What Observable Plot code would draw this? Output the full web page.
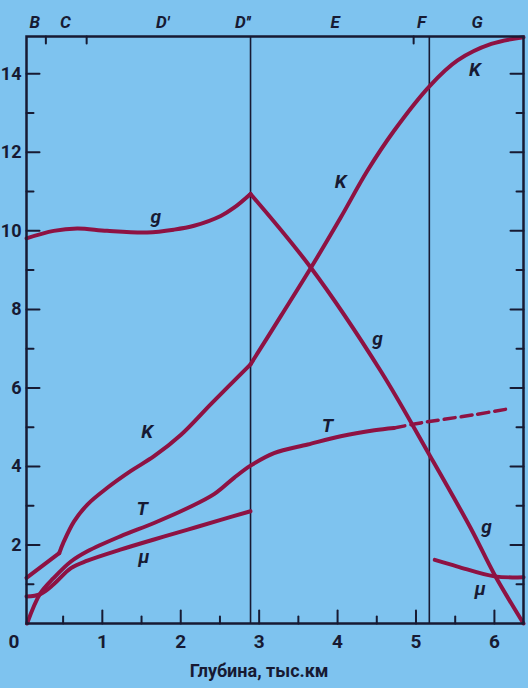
<!DOCTYPE html>
<html><head><meta charset="utf-8">
<script src="https://cdn.jsdelivr.net/npm/d3@7"></script>
<script src="https://cdn.jsdelivr.net/npm/@observablehq/plot@0.6"></script>
<style>
html,body{margin:0;padding:0;background:#7ec3ef;}
#chart{width:528px;height:688px;overflow:hidden;}
#chart svg{font-family:Roboto,"Liberation Sans",sans-serif;}
</style></head><body><div id="chart"></div>
<script>
// ---- axes / ticks ----
const xDomain = [0.033, 6.371];
const yDomain = [0, 14.95];
const xTickMajor = [1, 2, 3, 4, 5, 6];
const xTickMinor = [0.5, 1.5, 2.5, 3.5, 4.5, 5.5];
const xTickLabels = [0, 1, 2, 3, 4, 5, 6];
const yTickMajor = [2, 4, 6, 8, 10, 12, 14];
const yTickMinor = [1, 3, 5, 7, 9, 11, 13];
const xTitle = "Глубина, тыс.км";

// ---- zones (top) ----
const zoneNames = ["B", "C", "D'", "D''", "E", "F", "G"];
const zoneCenters = [0.14, 0.53, 1.77, 2.79, 3.97, 5.07, 5.78];
const zoneTicks = [0.28, 0.8, 4.97];
const boundaries = [2.89, 5.17];

// ---- g ----
const gMantleDepth = [0.033, 0.38, 0.68, 1.06, 1.57, 1.91, 2.17, 2.51, 2.68, 2.89];
const gMantleValue = [9.81, 10.0, 10.06, 10.0, 9.96, 10.03, 10.13, 10.38, 10.59, 10.94];
const gCoreDepth = [2.89, 3.66, 4.55, 5.17, 5.7, 6.0, 6.371];
const gCoreValue = [10.94, 9.06, 6.43, 4.3, 2.42, 1.25, 0.0];

// ---- K ----
const kCrustDepth = [0.033, 0.45];
const kCrustValue = [1.16, 1.79];
const kMantleDepth = [0.45, 0.51, 0.64, 0.81, 1.06, 1.36, 1.66, 2.0, 2.4, 2.89];
const kMantleValue = [1.79, 2.09, 2.6, 3.03, 3.45, 3.88, 4.26, 4.8, 5.62, 6.6];
const kCoreDepth = [2.89, 3.28, 3.66, 4.04, 4.38, 4.72, 5.18, 5.53, 5.96, 6.371];
const kCoreValue = [6.6, 7.84, 9.06, 10.34, 11.53, 12.55, 13.7, 14.34, 14.76, 14.93];

// ---- T ----
const tDepth = [0.04, 0.21, 0.38, 0.6, 0.81, 1.23, 1.66, 2.09, 2.43, 2.68, 2.89, 3.19, 3.62, 4.04, 4.47, 4.72];
const tValue = [0.0, 0.77, 1.16, 1.58, 1.84, 2.22, 2.56, 2.94, 3.3, 3.71, 4.02, 4.34, 4.56, 4.77, 4.92, 4.98];
const tDashDepth = [4.72, 4.98, 5.19, 5.75, 6.19];
const tDashValue = [4.98, 5.08, 5.15, 5.32, 5.47];

// ---- mu ----
const muMantleDepth = [0.033, 0.21, 0.38, 0.6, 0.81, 1.23, 1.66, 2.09, 2.51, 2.89];
const muMantleValue = [0.69, 0.75, 1.0, 1.41, 1.6, 1.88, 2.14, 2.39, 2.64, 2.86];
const muCoreDepth = [5.24, 5.53, 6.0, 6.371];
const muCoreValue = [1.62, 1.45, 1.2, 1.18];

// ---- curve labels ----
const labelText = ["g", "g", "g", "K", "K", "K", "T", "T", "μ", "μ"];
const labelDepth = [1.68, 4.51, 5.9, 1.57, 4.04, 5.75, 1.51, 3.87, 1.53, 5.82];
const labelValue = [10.35, 7.25, 2.45, 4.87, 11.24, 14.09, 2.92, 5.04, 1.69, 0.88];

const ink = "#171a33";
const curveColor = "#8e1243";

function seg(id, xs, ys) { return xs.map((x, i) => ({id, depth: x, value: ys[i]})); }
const solid = [
  ...seg("gM", gMantleDepth, gMantleValue),
  ...seg("gC", gCoreDepth, gCoreValue),
  ...seg("kA", kCrustDepth, kCrustValue),
  ...seg("kM", kMantleDepth, kMantleValue),
  ...seg("kC", kCoreDepth, kCoreValue),
  ...seg("t", tDepth, tValue),
  ...seg("muM", muMantleDepth, muMantleValue),
  ...seg("muC", muCoreDepth, muCoreValue)
];
const dashed = seg("tD", tDashDepth, tDashValue);
const labels = labelText.map((t, i) => ({t, depth: labelDepth[i], value: labelValue[i]}));
const zones = zoneNames.map((n, i) => ({n, depth: zoneCenters[i]}));

const tickShape = {draw(ctx, l) { ctx.moveTo(0, 0); ctx.lineTo(0, -l); }};
const tk = (data, opts) => Plot.vector(data, {anchor: "start", shape: tickShape, stroke: ink, strokeWidth: 2, ...opts});

const chart = Plot.plot({
  width: 528, height: 688,
  marginLeft: 26, marginRight: 5, marginTop: 36, marginBottom: 65,
  x: {domain: xDomain, axis: null},
  y: {domain: yDomain, axis: null},
  style: {background: "transparent", overflow: "visible"},
  marks: [
    Plot.ruleX(boundaries, {stroke: ink, strokeWidth: 1.6}),
    Plot.line(solid, {x: "depth", y: "value", z: "id", curve: "catmull-rom", stroke: curveColor, strokeWidth: 4, strokeLinejoin: "round"}),
    Plot.line(dashed, {x: "depth", y: "value", curve: "catmull-rom", stroke: curveColor, strokeWidth: 3.5, strokeDasharray: "11,6"}),
    Plot.frame({stroke: ink, strokeWidth: 2.5}),
    tk(xTickMajor, {x: d => d, y: yDomain[0], rotate: 0, length: 13}),
    tk(xTickMinor, {x: d => d, y: yDomain[0], rotate: 0, length: 7}),
    tk(yTickMajor, {x: xDomain[0], y: d => d, rotate: 90, length: 13}),
    tk(yTickMinor, {x: xDomain[0], y: d => d, rotate: 90, length: 7}),
    tk(yTickMajor, {x: xDomain[1], y: d => d, rotate: -90, length: 13}),
    tk(yTickMinor, {x: xDomain[1], y: d => d, rotate: -90, length: 7}),
    tk(zoneTicks, {x: d => d, y: yDomain[1], rotate: 180, length: 7}),
    Plot.text(xTickLabels.filter(d => d > 0), {x: d => d, y: yDomain[0], text: d => String(d), dy: 18, fontSize: 19, fontWeight: "bold", fill: ink}),
    Plot.text(xTickLabels.filter(d => d === 0), {x: d => d, y: yDomain[0], text: d => String(d), dy: 18, dx: -10, fontSize: 19, fontWeight: "bold", fill: ink}),
    Plot.text(yTickMajor, {x: xDomain[0], y: d => d, text: d => String(d), dx: -5, textAnchor: "end", fontSize: 18, fontWeight: "bold", fill: ink}),
    Plot.text([xTitle], {x: 3.0, y: yDomain[0], text: d => d, dy: 48, fontSize: 18, fontWeight: "bold", fill: ink}),
    Plot.text(zones, {x: "depth", y: yDomain[1], text: "n", dy: -14, fontSize: 17, fontWeight: "bold", fontStyle: "italic", fill: ink}),
    Plot.text(labels, {x: "depth", y: "value", text: "t", fontSize: 19, fontWeight: "bold", fontStyle: "italic", fill: ink})
  ]
});
document.getElementById("chart").appendChild(chart);
</script>
</body></html>
